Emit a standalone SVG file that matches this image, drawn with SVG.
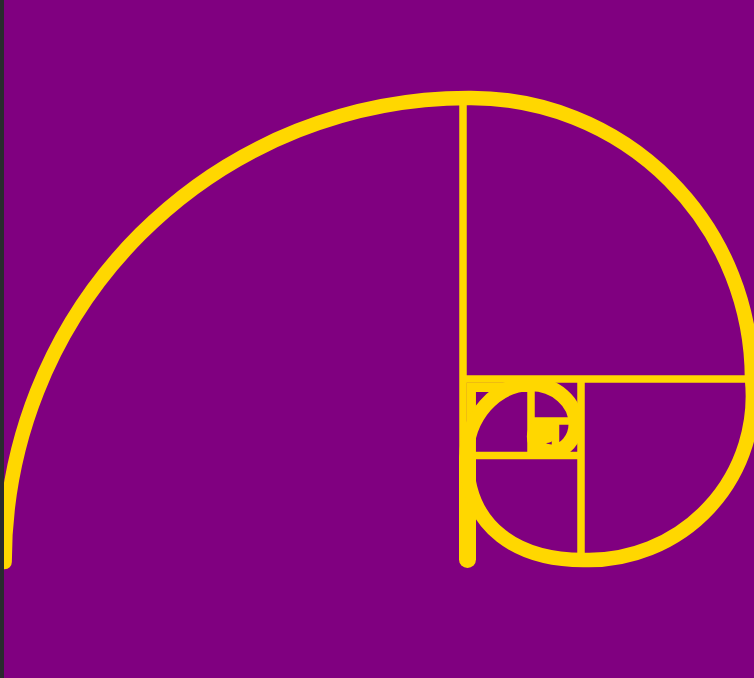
<svg xmlns="http://www.w3.org/2000/svg" width="754" height="678" viewBox="0 0 754 678">
  <style>
    .bg { fill: #800080; }
    .edge { fill: #2a2a2e; }
    .sq { stroke: #FFD700; stroke-width: 7.5; fill: none; stroke-linecap: butt; }
    .wide { stroke-width: 9.5; }
    .bar { stroke-width: 17; stroke-linecap: round; }
    .spiral { stroke: #FFD700; stroke-width: 14.5; fill: none; stroke-linecap: round; stroke-linejoin: round; }
  </style>
  <rect class="bg" x="0" y="0" width="754" height="678"/>
  <g id="squares">
    <line id="v1" class="sq" x1="463" y1="98" x2="463" y2="460"/>
    <line id="s5-left" class="sq wide" x1="471.2" y1="383" x2="471.2" y2="460"/>
    <line id="s4-left" class="sq bar" x1="467.5" y1="458" x2="467.5" y2="559.5"/>
    <line id="h1" class="sq" x1="463" y1="379" x2="752" y2="379"/>
    <line id="s5-top" class="sq wide" x1="467" y1="387.3" x2="531" y2="387.3"/>
    <line id="v2" class="sq" x1="581" y1="379" x2="581" y2="558"/>
    <line id="h2" class="sq" x1="467" y1="455.5" x2="581" y2="455.5"/>
    <line id="v3" class="sq" x1="531" y1="379" x2="531" y2="455.5"/>
    <line id="h3" class="sq" x1="531" y1="421" x2="576" y2="421"/>
    <line id="v4" class="sq" x1="555.5" y1="421" x2="555.5" y2="455.5"/>
  </g>
  <g id="connectors">
    <path id="spiral" class="spiral" d="M 4.6 562 A 464 464 0 0 1 468.5 98 L 471 98 A 281 281 0 0 1 752 379 A 164 164 0 0 1 585 560 C 520 560.5 466.5 530 466.5 457.2 C 466.5 417 495.3 384.1 530.6 384.1 C 555.5 384.1 575.8 401.9 575.8 423.7 C 575.8 439.1 564.8 451.7 551.3 451.7 C 541.8 451.7 534.1 444.9 534.1 436.5 C 534.1 430.7 538.3 425.9 543.4 425.9 C 547 425.9 550 428.5 550 431.6 C 550 433.9 548.4 435.7 546.4 435.7"/>
  </g>
  <rect class="edge" x="0" y="0" width="4" height="678"/>
</svg>
